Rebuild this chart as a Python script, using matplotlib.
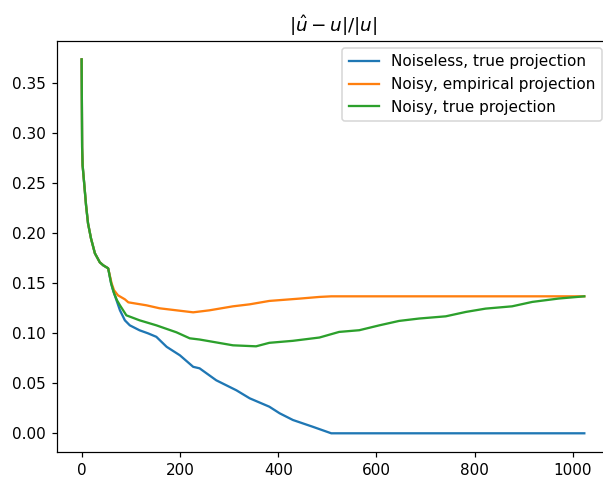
import matplotlib
matplotlib.use("Agg")
import matplotlib.pyplot as plt

# shared start of all three runs
x_head = [0, 1, 2, 5, 9, 13, 19, 27, 37, 44, 54]
y_head = [0.374, 0.286, 0.268, 0.251, 0.228, 0.210, 0.195, 0.180, 0.171, 0.168, 0.165]

# Noiseless, true projection
x_clean = x_head + [60, 64, 71, 78, 88, 98, 118, 135, 152, 173, 200, 227, 240, 274,
                    315, 342, 382, 403, 430, 470, 508, 1023]
y_clean = y_head + [0.150, 0.143, 0.133, 0.123, 0.113, 0.108, 0.103, 0.100, 0.0965,
                    0.0865, 0.078, 0.0665, 0.065, 0.053, 0.043, 0.035, 0.0266, 0.020,
                    0.0133, 0.0066, 0.0, 0.0]

# Noisy, empirical projection
x_emp = x_head + [61, 66, 74, 88, 95, 132, 159, 193, 227, 260, 308, 342, 382, 443,
                  484, 508, 1023]
y_emp = y_head + [0.150, 0.143, 0.138, 0.134, 0.131, 0.128, 0.125, 0.123, 0.121,
                  0.123, 0.127, 0.129, 0.1324, 0.1347, 0.1364, 0.137, 0.137]

# Noisy, true projection
x_true = x_head + [60, 66, 72, 78, 91, 118, 152, 193, 220, 240, 267, 308, 355, 382,
                   430, 484, 524, 565, 606, 646, 687, 741, 782, 822, 876, 917, 971, 1023]
y_true = y_head + [0.150, 0.140, 0.133, 0.128, 0.118, 0.113, 0.108, 0.101, 0.095,
                   0.0938, 0.0915, 0.088, 0.087, 0.0905, 0.0925, 0.0958, 0.1014,
                   0.1031, 0.108, 0.1124, 0.1148, 0.117, 0.1214, 0.1247, 0.127,
                   0.1314, 0.1348, 0.137]

DPI = 110
fig = plt.figure(figsize=(603 / DPI, 478 / DPI), dpi=DPI)
ax = fig.add_axes([0.0937, 0.0544, 0.917, 0.8605])

ax.plot(x_clean, y_clean, label="Noiseless, true projection")
ax.plot(x_emp, y_emp, label="Noisy, empirical projection")
ax.plot(x_true, y_true, label="Noisy, true projection")

ax.set_title(r"$|\hat{u} - u|/|u|$")
ax.legend(loc="upper right")

fig.savefig("out.png", dpi=DPI)
